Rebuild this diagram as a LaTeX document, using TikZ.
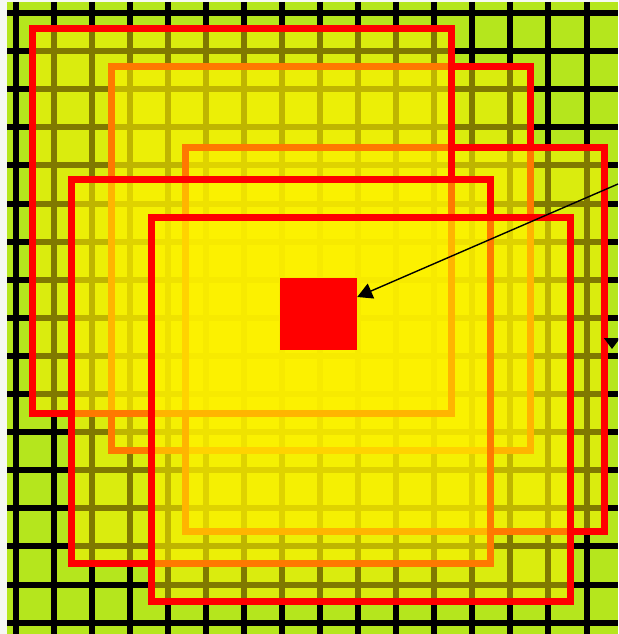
\documentclass[tikz,border=0pt]{standalone}
\usepackage{xcolor}
\usetikzlibrary{arrows.meta}
\definecolor{GridGreen}{HTML}{B5E61D}
\definecolor{PaperWhite}{HTML}{F6F8F3}

\begin{document}
\begin{tikzpicture}[
	x=1pt, y=-1pt, % pixel units, y pointing down
	% Style for the black bars of the grid
	grid line/.style={
		draw=black,
		line width=6pt
	},
	% Style for the overlapping frames
	frame/.style={
		rectangle,
		draw=red,             % Frame border color
		fill=yellow,          % Half transparent tint
		fill opacity=0.5,
		line width=7pt,
		minimum width=419pt,
		minimum height=384pt,
		inner sep=0pt
	},
	% Style for the small solid box in the middle
	target box/.style={
		rectangle,
		fill=red,
		minimum width=77pt,
		minimum height=72pt,
		inner sep=0pt
	},
	% Style for the arrows
	pointer/.style={
		draw=black,
		line width=1.4pt,
		-{Triangle[length=15pt,width=16pt]}
	}
	]
	
	% 1. Canvas and grid
	\useasboundingbox (0,0) rectangle (618,634);
	\clip (0,0) rectangle (618,634);
	\fill[PaperWhite] (0,0) rectangle (618,634);
	\fill[GridGreen] (7,2) rectangle (618,634);
	\foreach \k in {0,...,15}
		\draw[grid line] ({15.5+38.07*\k},2) -- ({15.5+38.07*\k},634);
	\foreach \k in {0,...,16}
		\draw[grid line] (7,{13+38.1*\k}) -- (618,{13+38.1*\k});
	
	% 2. Frames, back to front
	\node[frame] (f2) at (320.5,258.5) {};
	\node[frame] (f3) at (395,339) {};
	\node[frame] (f1) at (241.5,221) {};
	\node[frame] (f4) at (280.5,371) {};
	\node[frame] (f5) at (361,409.5) {};
	
	% 3. Target box and arrows
	\node[target box] (target) at (318.5,314) {};
	
	\coordinate (tail) at (618,184);
	\draw[pointer] (tail) -- ([yshift=17pt]target.east);
	
	\coordinate (drop top) at (612,338);
	\coordinate (drop tip) at (612,349);
	\draw[pointer, -{Triangle[length=11pt,width=16pt]}] (drop top) -- (drop tip);
	
\end{tikzpicture}
\end{document}
